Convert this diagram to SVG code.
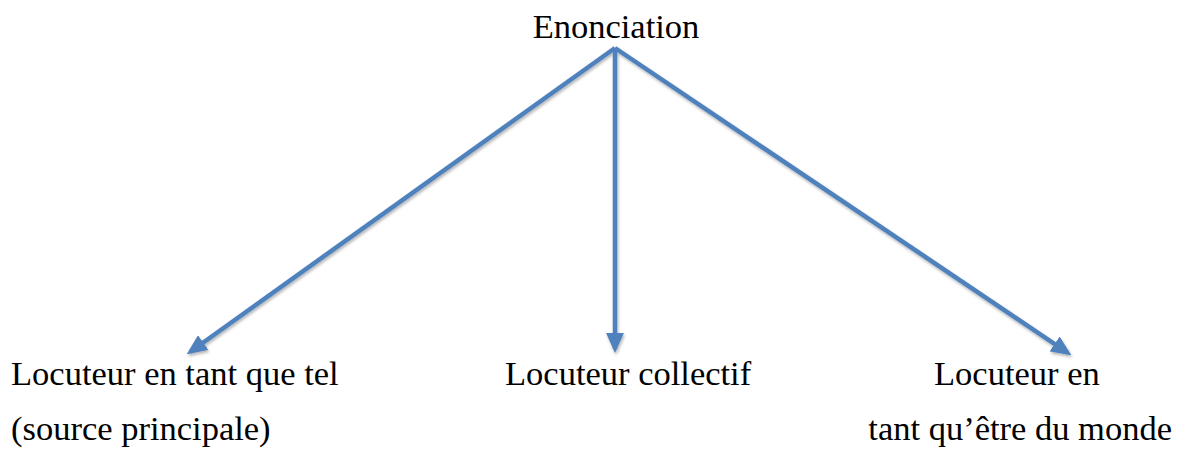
<svg xmlns="http://www.w3.org/2000/svg" width="1184" height="450" viewBox="0 0 1184 450">
<style>
text{font-family:"Liberation Serif","Times New Roman",serif;font-size:34.5px;fill:#000}
.c{stroke:#4f81bd;stroke-width:4.5;fill:none}
</style>
<defs>
<marker id="ah" markerWidth="4.5" markerHeight="4" refX="3.6" refY="2" orient="auto" markerUnits="strokeWidth">
<path d="M0,0 L4.5,2 L0,4 Z" fill="#4f81bd"/>
</marker>
<filter id="sh" x="-10%" y="-10%" width="120%" height="120%">
<feDropShadow dx="1" dy="2" stdDeviation="1.5" flood-color="#000" flood-opacity="0.3"/>
</filter>
</defs>
<rect width="1184" height="450" fill="#fff"/>
<g id="n-enonciation"><text x="616" y="38" text-anchor="middle">Enonciation</text></g>
<g id="n-tel"><text x="11" y="385">Locuteur en tant que tel</text><text x="11" y="440">(source principale)</text></g>
<g id="n-collectif"><text x="505" y="385">Locuteur collectif</text></g>
<g id="n-monde"><text x="934" y="385">Locuteur en</text><text x="1172" y="440" text-anchor="end">tant qu’être du monde</text></g>
<g id="connectors" filter="url(#sh)">
<line class="c" x1="615" y1="48" x2="190" y2="352" marker-end="url(#ah)"/>
<line class="c" x1="615" y1="48" x2="615" y2="349" marker-end="url(#ah)"/>
<line class="c" x1="615" y1="48" x2="1068" y2="353" marker-end="url(#ah)"/>
</g>
</svg>
